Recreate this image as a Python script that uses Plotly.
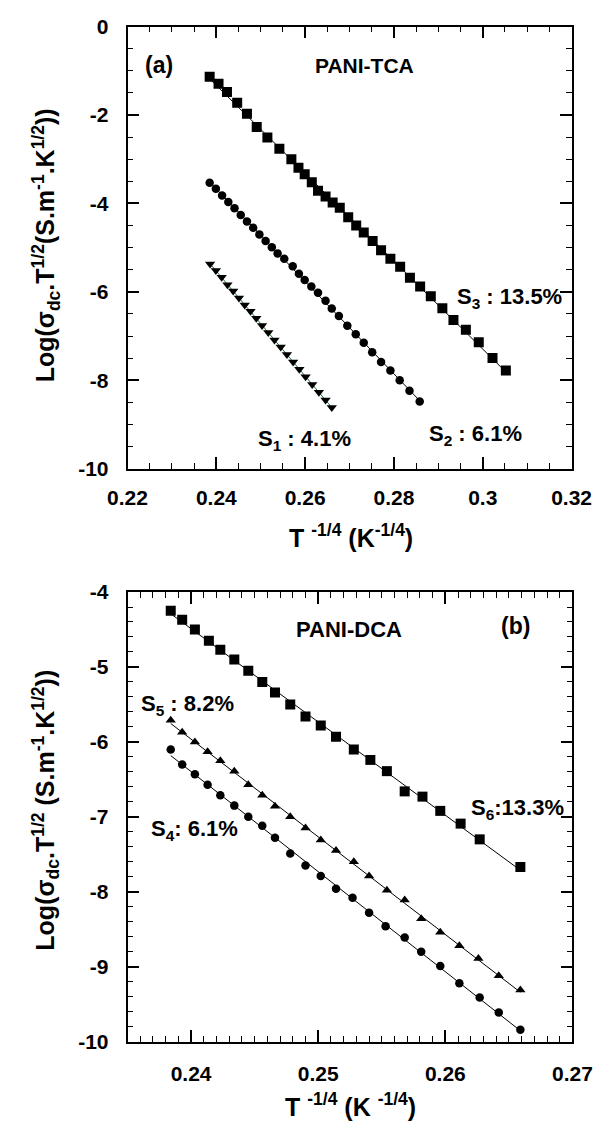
import numpy as np
import plotly.graph_objects as go

# ---------------- data: panel (a) PANI-TCA ----------------
s1_x = [0.2386, 0.2399, 0.2412, 0.2425, 0.2438, 0.2451, 0.2464, 0.2477, 0.2490, 0.2503,
        0.2517, 0.2531, 0.2545, 0.2559, 0.2573, 0.2587, 0.2601, 0.2616, 0.2631, 0.2646, 0.2660]
s1_y = [-5.37, -5.52, -5.67, -5.84, -5.98, -6.14, -6.30, -6.44, -6.60, -6.76,
        -6.92, -7.09, -7.25, -7.42, -7.59, -7.75, -7.92, -8.10, -8.27, -8.45, -8.62]

s2_x = [0.2385, 0.2399, 0.2413, 0.2427, 0.2441, 0.2455, 0.2469, 0.2483, 0.2497, 0.2511,
        0.2525, 0.2538, 0.2553, 0.2572, 0.2586, 0.2599, 0.2614, 0.2629, 0.2646, 0.2660,
        0.2676, 0.2695, 0.2714, 0.2732, 0.2751, 0.2771, 0.2792, 0.2813, 0.2835, 0.2858]
s2_y = [-3.53, -3.67, -3.82, -3.97, -4.11, -4.26, -4.41, -4.55, -4.70, -4.85,
        -4.99, -5.13, -5.25, -5.42, -5.59, -5.73, -5.88, -6.02, -6.20, -6.38,
        -6.55, -6.77, -6.96, -7.15, -7.37, -7.59, -7.78, -8.00, -8.24, -8.48]

s3_x = [0.2385, 0.2405, 0.2424, 0.2447, 0.2469, 0.2491, 0.2515, 0.2542, 0.2569, 0.2585,
        0.2599, 0.2615, 0.2629, 0.2646, 0.2662, 0.2678, 0.2697, 0.2715, 0.2732, 0.2752,
        0.2771, 0.2792, 0.2814, 0.2836, 0.2859, 0.2883, 0.2909, 0.2934, 0.2962, 0.2991,
        0.3022, 0.3052]
s3_y = [-1.13, -1.29, -1.48, -1.72, -1.97, -2.27, -2.51, -2.76, -3.00, -3.19,
        -3.34, -3.52, -3.71, -3.84, -3.98, -4.10, -4.31, -4.50, -4.66, -4.85,
        -5.06, -5.25, -5.43, -5.68, -5.88, -6.10, -6.37, -6.64, -6.86, -7.14,
        -7.50, -7.78]

# ---------------- data: panel (b) PANI-DCA ----------------
s4_x = [0.2384, 0.2393, 0.2403, 0.2413, 0.2423, 0.2434, 0.2445, 0.2456, 0.2466, 0.2478,
        0.2490, 0.2502, 0.2514, 0.2527, 0.2540, 0.2553, 0.2568, 0.2581, 0.2596, 0.2611,
        0.2627, 0.2642, 0.2659]
s4_y = [-6.10, -6.30, -6.43, -6.57, -6.71, -6.85, -7.00, -7.12, -7.28, -7.49,
        -7.65, -7.79, -7.96, -8.08, -8.28, -8.46, -8.61, -8.80, -8.99, -9.22,
        -9.41, -9.61, -9.84]

s5_x = [0.2384, 0.2393, 0.2403, 0.2413, 0.2423, 0.2434, 0.2445, 0.2456, 0.2466, 0.2478,
        0.2490, 0.2502, 0.2514, 0.2528, 0.2540, 0.2554, 0.2568, 0.2581, 0.2596, 0.2611,
        0.2626, 0.2642, 0.2659]
s5_y = [-5.71, -5.87, -6.00, -6.13, -6.25, -6.39, -6.57, -6.71, -6.86, -7.00,
        -7.15, -7.31, -7.45, -7.60, -7.79, -7.98, -8.11, -8.36, -8.54, -8.72,
        -8.89, -9.12, -9.31]

s6_x = [0.2384, 0.2393, 0.2403, 0.2414, 0.2423, 0.2434, 0.2445, 0.2456, 0.2466, 0.2478,
        0.2490, 0.2502, 0.2514, 0.2528, 0.2541, 0.2554, 0.2568, 0.2582, 0.2596, 0.2612,
        0.2627, 0.2659]
s6_y = [-4.25, -4.37, -4.50, -4.65, -4.77, -4.90, -5.05, -5.20, -5.34, -5.50,
        -5.66, -5.78, -5.93, -6.10, -6.24, -6.39, -6.66, -6.73, -6.92, -7.09,
        -7.30, -7.67]

# tick labels
a_xticks = [0.22, 0.24, 0.26, 0.28, 0.30, 0.32]
a_xtext = ["0.22", "0.24", "0.26", "0.28", "0.3", "0.32"]
a_yticks = [0, -2, -4, -6, -8, -10]
a_ytext = ["0", "-2", "-4", "-6", "-8", "-10"]
b_xticks = [0.235, 0.24, 0.245, 0.25, 0.255, 0.26, 0.265, 0.27]
b_xtext = ["", "0.24", "", "0.25", "", "0.26", "", "0.27"]
b_yticks = [-4, -5, -6, -7, -8, -9, -10]
b_ytext = ["-4", "-5", "-6", "-7", "-8", "-9", "-10"]

W, H = 614, 1136
FONT = "Liberation Sans"


def dx(a, b):
    return [a / W, b / W]


def dy(top, bot):
    return [1 - bot / H, 1 - top / H]


fig = go.Figure()


def add_series(x, y, symbol, size, xa, ya, linecolor="black"):
    x = np.asarray(x)
    y = np.asarray(y)
    k, b = np.polyfit(x, y, 1)
    xl = np.array([x.min(), x.max()])
    fig.add_trace(go.Scatter(x=xl, y=k * xl + b, mode="lines",
                             line=dict(color=linecolor, width=1),
                             xaxis=xa, yaxis=ya, hoverinfo="skip"))
    fig.add_trace(go.Scatter(x=x, y=y, mode="markers",
                             marker=dict(symbol=symbol, size=size, color="black",
                                         line=dict(width=0)),
                             xaxis=xa, yaxis=ya))


add_series(s1_x, s1_y, "triangle-down", 9, "x", "y", linecolor="#1d6b2a")
add_series(s2_x, s2_y, "circle", 8.5, "x", "y")
add_series(s3_x, s3_y, "square", 10, "x", "y")
add_series(s4_x, s4_y, "circle", 8.5, "x2", "y2")
add_series(s5_x, s5_y, "triangle-up", 9, "x2", "y2")
add_series(s6_x, s6_y, "square", 10, "x2", "y2")

tickfont = dict(family=FONT, size=21, color="black", weight="bold")


def axis(domain, rng, tv, tt, minor_vals, anchor, standoff):
    return dict(domain=domain, range=rng, anchor=anchor,
                tickmode="array", tickvals=tv, ticktext=tt,
                ticks="inside", ticklen=12, tickwidth=1.5, tickcolor="black",
                showline=True, linecolor="black", linewidth=1.5, mirror="allticks",
                showgrid=False, zeroline=False, tickfont=tickfont,
                ticklabelstandoff=standoff,
                minor=dict(tickmode="array", tickvals=minor_vals, ticks="inside",
                           ticklen=6, tickwidth=1, tickcolor="black", showgrid=False))


fig.update_layout(
    width=W, height=H, margin=dict(l=0, r=0, t=0, b=0),
    paper_bgcolor="white", plot_bgcolor="white", showlegend=False,
    xaxis=axis(dx(115, 590), [0.22, 0.32], a_xticks, a_xtext,
               list(np.round(np.arange(0.22, 0.3201, 0.005), 4)), "y", 9),
    yaxis=axis(dy(15, 466), [-10, 0], a_yticks, a_ytext,
               list(np.round(np.arange(-10, 0.01, 0.5), 2)), "x", 13),
    xaxis2=axis(dx(115, 591), [0.235, 0.27], b_xticks, b_xtext,
                list(np.round(np.arange(0.235, 0.2701, 0.001), 4)), "y2", 12),
    yaxis2=axis(dy(592, 1051), [-10, -4], b_yticks, b_ytext,
                list(np.round(np.arange(-10, -3.99, 0.2), 2)), "x2", 13),
)


def ann(text, px, py, size=22, xanchor="center", yanchor="middle", angle=0):
    fig.add_annotation(text=text, x=px / W, y=1 - py / H, xref="paper", yref="paper",
                       xanchor=xanchor, yanchor=yanchor, showarrow=False, textangle=angle,
                       font=dict(family=FONT, size=size, color="black", weight="bold"))


# panel (a) texts
ann("(a)", 149, 54, 23)
ann("PANI-TCA", 313, 55, 21, xanchor="left")
ann("S<sub>3</sub> : 13.5%", 465, 292, 22, xanchor="left")
ann("S<sub>2</sub> : 6.1%", 435, 432, 22, xanchor="left")
ann("S<sub>1</sub> : 4.1%", 252, 437, 22, xanchor="left")
ann("Log(σ<sub>dc</sub>.T<sup>1/2</sup>(S.m<sup>-1</sup>.K<sup>1/2</sup>))", 28, 238, 25, angle=-90)
ann("T <sup>-1/4</sup> (K<sup>-1/4</sup>)", 354, 535, 25)

# panel (b) texts
ann("PANI-DCA", 293, 630, 22, xanchor="left")
ann("(b)", 530, 627, 23)
ann("S<sub>5</sub> : 8.2%", 127, 707, 22, xanchor="left")
ann("S<sub>4</sub>: 6.1%", 138, 835, 22, xanchor="left")
ann("S<sub>6</sub>:13.3%", 480, 813, 22, xanchor="left")
ann("Log(σ<sub>dc</sub>.T<sup>1/2</sup> (S.m<sup>-1</sup>.K<sup>1/2</sup>))", 28, 815, 25, angle=-90)
ann("T <sup>-1/4</sup> (K <sup>-1/4</sup>)", 354, 1116, 25)

fig.write_html("out.html")
